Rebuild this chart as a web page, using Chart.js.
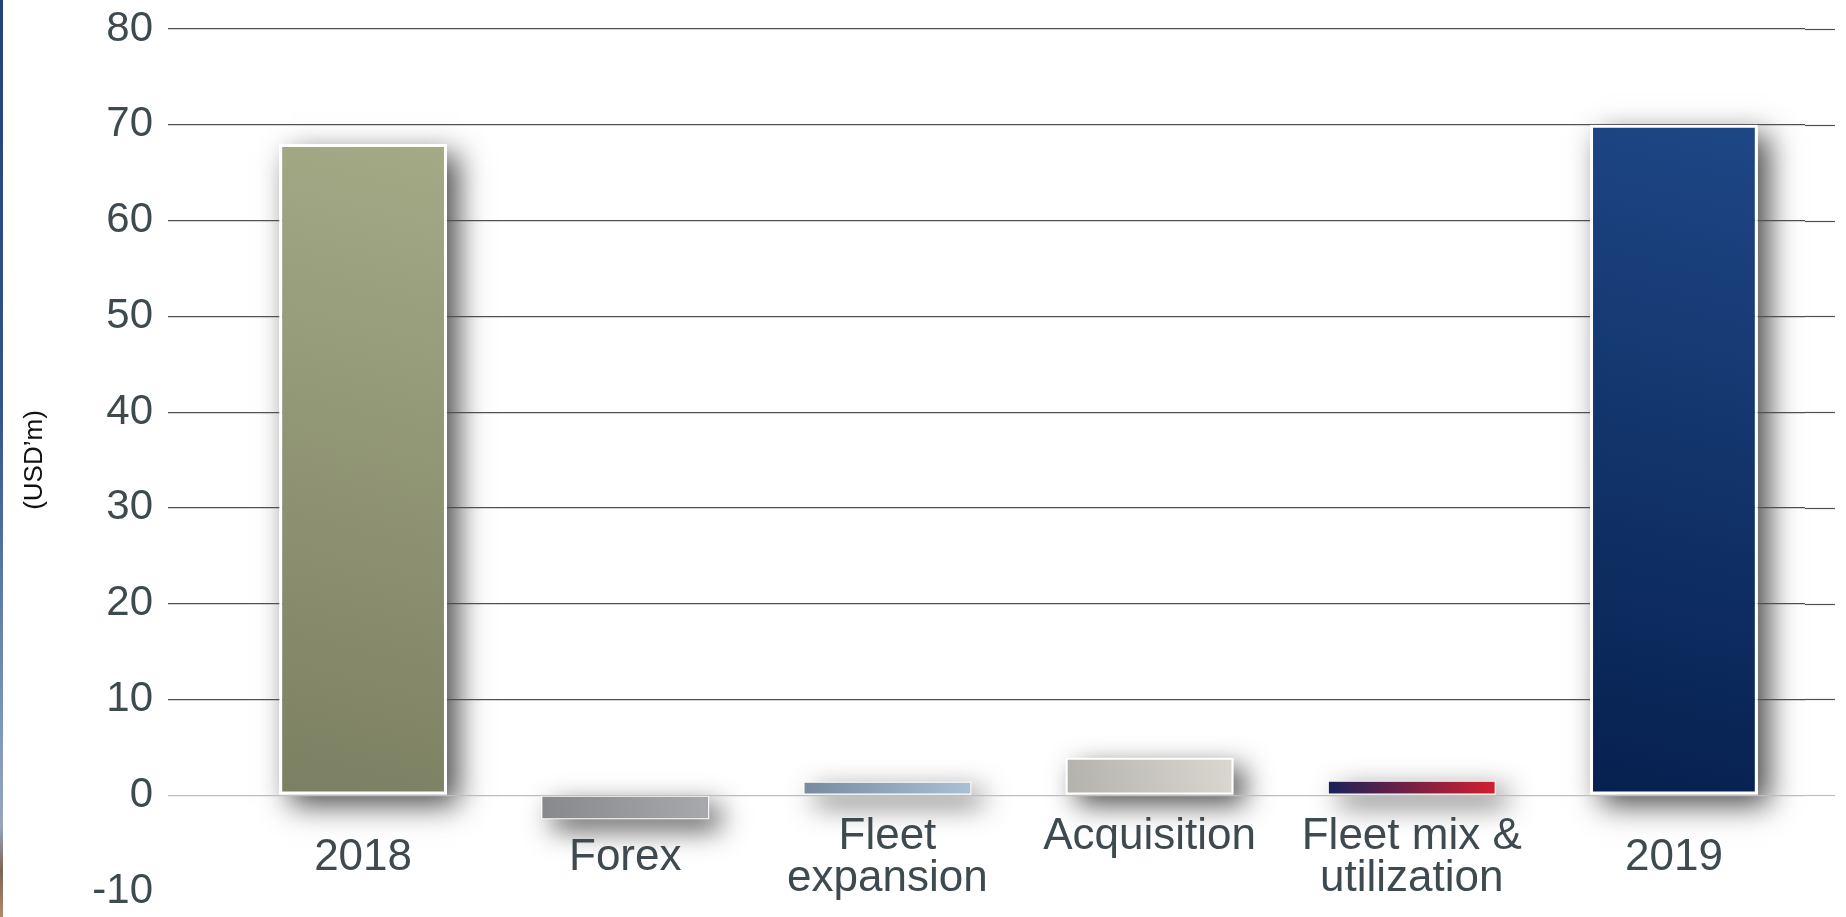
<!DOCTYPE html>
<html>
<head>
<meta charset="utf-8">
<script src="https://cdn.jsdelivr.net/npm/chart.js@4.4.1/dist/chart.umd.min.js"></script>
<style>
  body { margin: 0; background: #fff; }
  #wrap { position: relative; width: 1846px; height: 917px; }
  #edge {
    position: absolute; left: 0; top: 0; width: 3px; height: 917px;
    background: linear-gradient(to bottom, #24427a 0%, #34548c 45%, #7f98bb 80%, #97a6ba 90%, #7d6458 95%, #b08a6c 100%);
  }
</style>
</head>
<body>
<div id="wrap">
  <div id="edge"></div>
  <canvas id="bridgeChart" width="1846" height="917"></canvas>
</div>
<script>
// EBITDA bridge, USD'm
const categories = ["2018", "Forex", ["Fleet", "expansion"], ["Acquisition", ""], ["Fleet mix &", "utilization"], "2019"];
const values = [68, -2.5, 1.4, 3.9, 1.5, 70];
const yMin = -10;
const yMax = 80;
const yStep = 10;

// gradient stops per bar: [dark corner, light corner]
const barShades = [
  ["#7c8062", "#a4a986"],
  ["#87888c", "#a8a9ad"],
  ["#778b9f", "#a9c0d5"],
  ["#b3b1ac", "#dbd8d2"],
  ["#18235a", "#d41f2f"],
  ["#06204f", "#1e4786"],
];
const borderWidths = [3, 1, 1, 2, 1, 3];
const textColor = "#3e4a4f";

function lineColour(value) {
  if (value === yMin) return "rgba(0,0,0,0)"; // bottom line is not drawn
  return value === 0 ? "#bdbdbd" : "#505050";
}

function barGradient(context) {
  const chart = context.chart;
  const i = context.dataIndex;
  if (!chart.chartArea || i === undefined) return barShades[i || 0][0];
  const xs = chart.scales.x;
  const ys = chart.scales.y;
  const cx = xs.getPixelForValue(i);
  const half = (chart.chartArea.width / categories.length) * 0.64 / 2;
  const y0 = ys.getPixelForValue(0);
  const y1 = ys.getPixelForValue(values[i]);
  const g = chart.ctx.createLinearGradient(cx - half, Math.max(y0, y1), cx + half, Math.min(y0, y1));
  g.addColorStop(0, barShades[i][0]);
  g.addColorStop(1, barShades[i][1]);
  return g;
}

// soft drop shadow under each bar, drawn before the grid
const barShadows = {
  id: "barShadows",
  beforeDraw(chart) {
    const ctx = chart.ctx;
    const meta = chart.getDatasetMeta(0);
    ctx.save();
    ctx.shadowColor = "rgba(0,0,0,0.7)";
    ctx.shadowBlur = 28;
    ctx.shadowOffsetX = 11;
    ctx.shadowOffsetY = 10;
    ctx.fillStyle = "#fff";
    meta.data.forEach((bar) => {
      const p = bar.getProps(["x", "y", "base", "width"], true);
      ctx.fillRect(p.x - p.width / 2, Math.min(p.y, p.base), p.width, Math.abs(p.base - p.y));
    });
    ctx.restore();
  },
  // grid lines run a little past the plot on the right
  beforeDatasetsDraw(chart) {
    const ctx = chart.ctx;
    const ys = chart.scales.y;
    const right = chart.chartArea.right;
    ctx.save();
    ys.ticks.forEach((t) => {
      const y = Math.round(ys.getPixelForValue(t.value)) + 0.5;
      ctx.strokeStyle = lineColour(t.value);
      ctx.lineWidth = 1.2;
      ctx.beginPath();
      ctx.moveTo(right, y);
      ctx.lineTo(right + 30, y);
      ctx.stroke();
    });
    ctx.restore();
  },
};

const ctx = document.getElementById("bridgeChart").getContext("2d");
const chart = new Chart(ctx, {
  type: "bar",
  data: {
    labels: categories,
    datasets: [
      {
        data: values,
        backgroundColor: barGradient,
        borderColor: "#ffffff",
        borderWidth: borderWidths,
        borderSkipped: false,
        barPercentage: 0.64,
        categoryPercentage: 1,
      },
    ],
  },
  options: {
    responsive: false,
    animation: false,
    layout: { padding: { top: 29, right: 41, bottom: 26, left: 0 } },
    plugins: {
      legend: { display: false },
      tooltip: { enabled: false },
    },
    scales: {
      x: {
        position: { y: 0 },
        offset: true,
        grid: { display: false },
        border: { display: false },
        ticks: {
          color: textColor,
          padding: 34,
          maxRotation: 0,
          autoSkip: false,
          crossAlign: "center",
          font: { family: "'Liberation Sans', Arial, sans-serif", size: 44, lineHeight: 0.95 },
        },
      },
      y: {
        min: yMin,
        max: yMax,
        afterFit: (scale) => {
          scale.width = 232;
          scale.paddingTop = 0;
          scale.paddingBottom = 0;
        },
        grid: {
          color: (c) => lineColour(c.tick ? c.tick.value : 1),
          lineWidth: 1.2,
          tickLength: 64,
        },
        border: { display: false },
        ticks: {
          stepSize: yStep,
          color: textColor,
          padding: 15,
          font: { family: "'Liberation Sans', Arial, sans-serif", size: 42 },
        },
        title: {
          display: true,
          text: "(USD’m)",
          color: "#111",
          padding: { top: 19, bottom: 0 },
          font: { family: "'Liberation Sans', Arial, sans-serif", size: 26 },
        },
      },
    },
  },
  plugins: [barShadows],
});
</script>
</body>
</html>
